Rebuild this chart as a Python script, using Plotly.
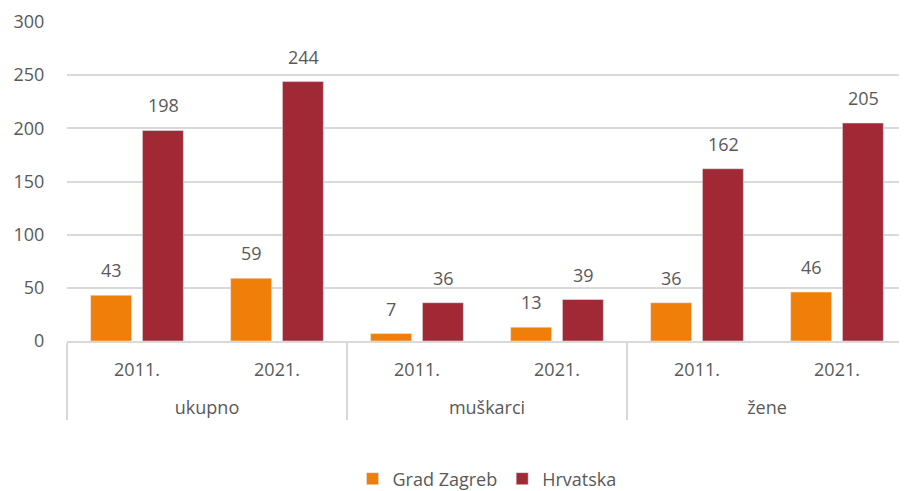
import plotly.graph_objects as go

groups = ["ukupno", "ukupno", "muškarci", "muškarci", "žene", "žene"]
years = ["2011.", "2021.", "2011.", "2021.", "2011.", "2021."]
grad_zagreb = [43, 59, 7, 13, 36, 46]
hrvatska = [198, 244, 36, 39, 162, 205]
y_ticks = [0, 50, 100, 150, 200, 250, 300]

font_family = "Open Sans, Noto Sans, sans-serif"
gray = "#595959"
series = [("Grad Zagreb", grad_zagreb, "#F07F09", -26), ("Hrvatska", hrvatska, "#A12936", 26)]
group_labels = [" <br>" + g for g in groups]

fig = go.Figure()
for name, vals, color, shift in series:
    fig.add_trace(go.Bar(
        x=[group_labels, years], y=vals, name=name, marker_color=color,
        hovertemplate="%{y}",
    ))
    for i, v in enumerate(vals):
        fig.add_annotation(
            x=i, y=v, xref="x", yref="y", text=str(v), showarrow=False,
            xshift=shift, yshift=11, yanchor="bottom",
            font=dict(size=18, color=gray, family=font_family),
        )

fig.update_layout(
    width=899, height=483,
    margin=dict(l=59, r=0, t=14, b=150),
    plot_bgcolor="white", paper_bgcolor="white",
    barmode="group", bargap=0.26, bargroupgap=0.21,
    font=dict(family=font_family, size=18, color=gray),
    showlegend=True,
    legend=dict(orientation="h", x=0.5, xanchor="center", yref="container",
                y=0.025, yanchor="middle",
                font=dict(size=18, color=gray), itemwidth=30),
    xaxis=dict(type="multicategory", showline=True, linecolor="#d9d9d9", linewidth=1.5,
               dividercolor="#d9d9d9", dividerwidth=1.5, showdividers=True,
               tickfont=dict(size=18, color=gray), ticks="", ticklabelstandoff=12,
               automargin=False),
    yaxis=dict(range=[0, 300], tickvals=y_ticks, showgrid=True, gridcolor="#d9d9d9",
               gridwidth=1.5, zeroline=False, showline=False, ticks="outside",
               ticklen=18, tickcolor="rgba(0,0,0,0)", automargin=False,
               tickfont=dict(size=18, color=gray)),
)

fig.write_html("out.html")
